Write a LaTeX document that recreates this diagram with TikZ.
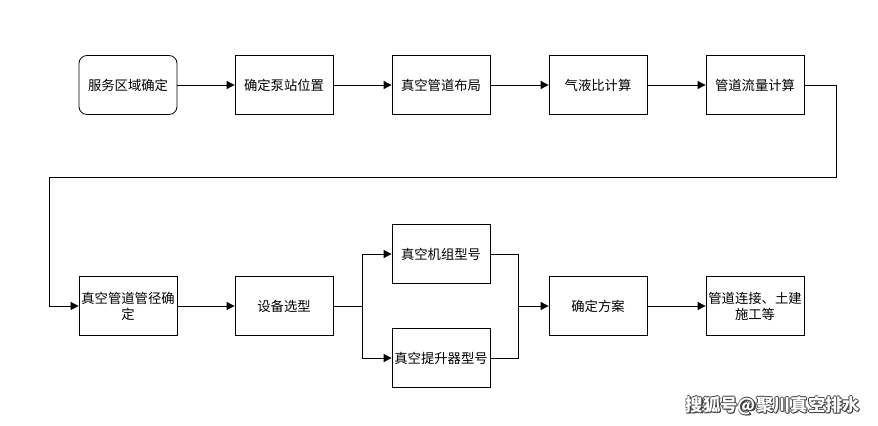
\documentclass[tikz,border=0pt]{standalone}
\usepackage{fontspec}
\setmainfont{Noto Sans CJK SC}
\usetikzlibrary{arrows.meta}

\begin{document}
\begin{tikzpicture}[
    x=0.75pt, y=-0.75pt,
    >={Triangle[length=6pt, width=6pt]},
    every node/.style={font=\fontsize{10}{12}\selectfont},
    box/.style={draw, line width=0.6pt, minimum width=73.5pt, minimum height=44.25pt, inner sep=1pt, align=center},
    roundbox/.style={box, rounded corners=6pt},
    arr/.style={->, line width=0.6pt},
    line/.style={line width=0.6pt},
]
\useasboundingbox[fill=white] (0,0) rectangle (878,425);

% ============ first row ============
\node[roundbox] (area)   at (128, 85) {服务区域确定};
\node[box]      (pump)   at (284, 85) {确定泵站位置};
\node[box]      (layout) at (441, 85) {真空管道布局};
\node[box]      (ratio)  at (598, 85) {气液比计算};
\node[box]      (flow)   at (755, 85) {管道流量计算};

\draw[arr] (area) -- (pump);
\draw[arr] (pump) -- (layout);
\draw[arr] (layout) -- (ratio);
\draw[arr] (ratio) -- (flow);

% ============ second row ============
\node[box] (diam)   at (128, 306) {真空管道管径确\\定};
\node[box] (equip)  at (284, 306) {设备选型};
\node[box] (unit)   at (441, 254) {真空机组型号};
\node[box] (lift)   at (441, 358) {真空提升器型号};
\node[box] (plan)   at (598, 306) {确定方案};
\node[box] (build)  at (755, 306) {管道连接、土建\\施工等};

\coordinate (turn) at (836, 177);
\coordinate (back) at (49, 177);
\coordinate (fork) at (362, 306);
\coordinate (join) at (518, 306);

\draw[arr] (flow.east) -| (turn) -- (back) |- (diam.west);
\draw[arr] (diam) -- (equip);
\draw[line] (equip) -- (fork);
\draw[arr] (fork) |- (unit.west);
\draw[arr] (fork) |- (lift.west);
\draw[line] (unit.east) -| (join);
\draw[line] (lift.east) -| (join);
\draw[arr] (join) -- (plan);
\draw[arr] (plan) -- (build);

% ============ watermark ============
\foreach \dx/\dy in {-0.8/0, 0.8/0, 0/-0.8, 0/0.8, 1.2/1.2}
    \node[font=\fontsize{13}{15}\selectfont\bfseries, text=black!75] at (773+\dx, 406+\dy) {搜狐号@聚川真空排水};
\node[font=\fontsize{13}{15}\selectfont\bfseries, text=white] (mark) at (773, 406) {搜狐号@聚川真空排水};

\end{tikzpicture}
\end{document}
